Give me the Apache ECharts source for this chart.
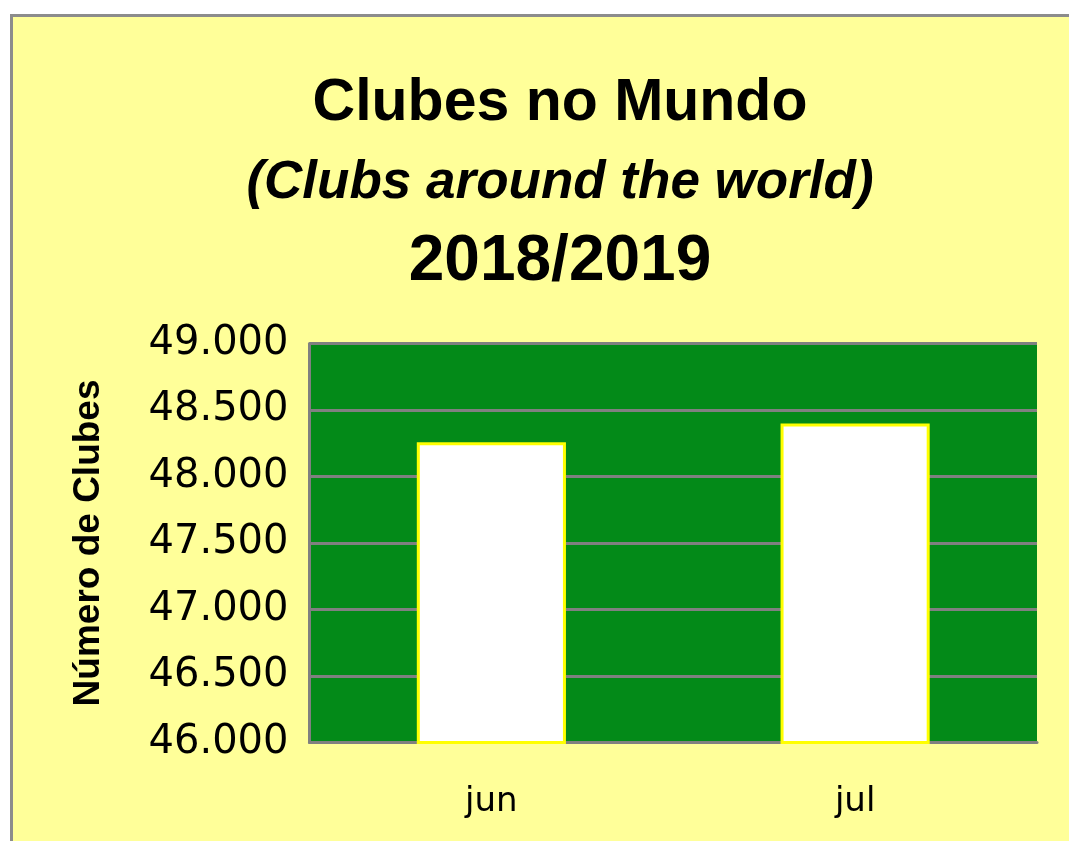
<!DOCTYPE html>
<html>
<head>
<meta charset="utf-8">
<script src="https://cdn.jsdelivr.net/npm/echarts@6/dist/echarts.min.js"></script>
<style>
  html, body { margin: 0; padding: 0; background: #ffffff; overflow: hidden; }
  .frame {
    position: absolute;
    left: 10px;
    top: 14px;
    width: 1056px;
    height: 824px;
    border-left: 3px solid #8c8c8c;
    border-top: 3px solid #8c8c8c;
    background: #ffff99;
  }
  #chart { width: 1056px; height: 824px; }
</style>
</head>
<body>
<div class="frame"><div id="chart"></div></div>
<script>
// dados
const months = ['jun', 'jul'];
const clubs = [48258, 48398];
const titleLines = ['Clubes no Mundo', '(Clubs around the world)', '2018/2019'];
const yAxisName = 'Número de Clubes';

const myChart = echarts.init(document.getElementById('chart'));

const option = {
  backgroundColor: '#ffff99',
  animation: false,
  title: [
    {
      text: titleLines[0],
      left: 542, top: 52, textAlign: 'center',
      textStyle: { fontFamily: 'Liberation Sans', fontWeight: 'bold', fontSize: 59, color: '#000' }
    },
    {
      text: titleLines[1],
      left: 542, top: 135, textAlign: 'center',
      textStyle: { fontFamily: 'Liberation Sans', fontWeight: 'bold', fontStyle: 'italic', fontSize: 53, color: '#000' }
    },
    {
      text: titleLines[2],
      left: 542, top: 208, textAlign: 'center',
      textStyle: { fontFamily: 'Liberation Sans', fontWeight: 'bold', fontSize: 64, color: '#000' }
    }
  ],
  grid: {
    left: 296.5,
    right: 32,
    top: 326.5,
    bottom: 98.6,
    show: true,
    backgroundColor: '#038a18',
    borderWidth: 0,
    containLabel: false
  },
  xAxis: {
    type: 'category',
    data: months,
    axisLine: { show: true, lineStyle: { color: '#808080', width: 3 } },
    axisTick: { show: false },
    axisLabel: { margin: 43, fontFamily: 'DejaVu Sans', fontSize: 34, color: '#000' },
    splitLine: { show: false }
  },
  yAxis: {
    type: 'value',
    min: 46000,
    max: 49000,
    interval: 500,
    name: yAxisName,
    nameLocation: 'middle',
    nameGap: 202,
    nameTextStyle: { fontFamily: 'Liberation Sans', fontWeight: 'bold', fontSize: 37, color: '#000' },
    axisLine: { show: true, lineStyle: { color: '#808080', width: 3 } },
    axisTick: { show: false },
    axisLabel: {
      margin: 21,
      fontFamily: 'DejaVu Sans',
      fontSize: 40,
      color: '#000',
      formatter: v => (v / 1000).toFixed(3)
    },
    splitLine: { show: true, lineStyle: { color: '#808080', width: 3 } }
  },
  series: [{
    type: 'bar',
    data: clubs,
    barWidth: '41%',
    itemStyle: { color: '#ffffff', borderColor: '#ffff00', borderWidth: 3 }
  }]
};

myChart.setOption(option);
</script>
</body>
</html>
